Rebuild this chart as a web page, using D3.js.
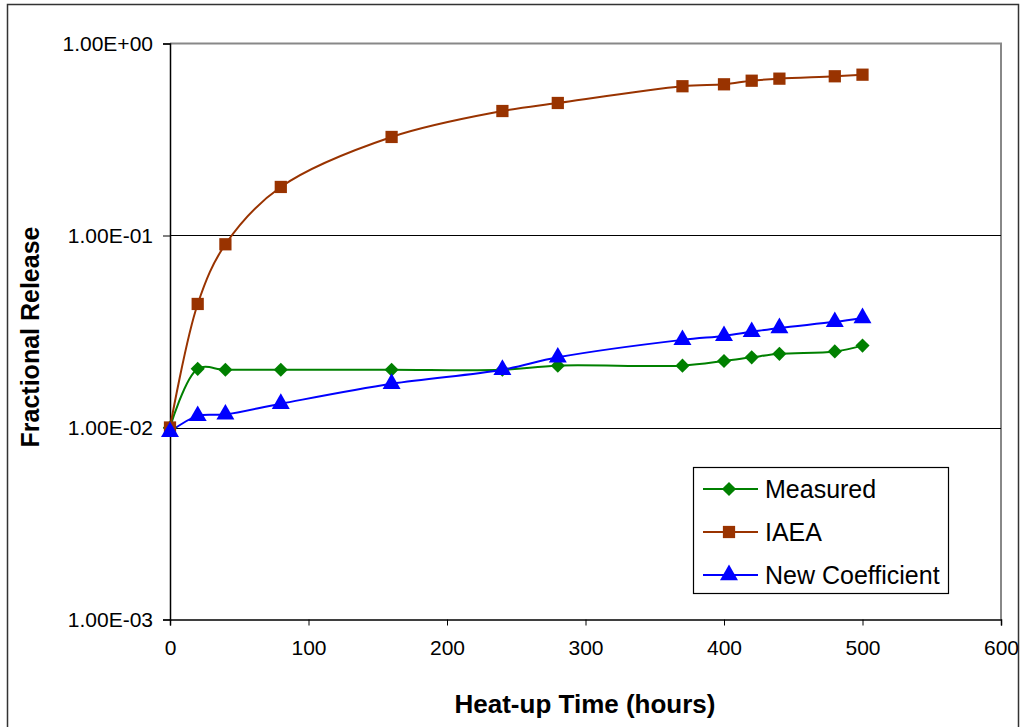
<!DOCTYPE html>
<html>
<head>
<meta charset="utf-8">
<script src="https://cdn.jsdelivr.net/npm/d3@7"></script>
<style>
body { margin: 0; background: #fff; }
text { font-family: "Liberation Sans", Arial, sans-serif; fill: #000; }
</style>
</head>
<body>
<div id="chart"></div>
<script>
var width = 1022;
var height = 727;

// data
var hours = [0, 20, 40, 80, 160, 240, 280, 370, 400, 420, 440, 480, 500];
var measured = [0.0100, 0.0202, 0.0200, 0.0200, 0.0200, 0.0200, 0.0210, 0.0210, 0.0222, 0.0232, 0.0242, 0.0249, 0.0267];
var iaea = [0.0100, 0.0440, 0.0900, 0.179, 0.326, 0.445, 0.490, 0.599, 0.613, 0.640, 0.656, 0.675, 0.688];
var newCoef = [0.0095, 0.0115, 0.0117, 0.0133, 0.0169, 0.0200, 0.0232, 0.0286, 0.0300, 0.0315, 0.0330, 0.0355, 0.0372];
var yTicks = [1, 0.1, 0.01, 0.001];
var yTickLabels = ["1.00E+00", "1.00E-01", "1.00E-02", "1.00E-03"];
var xTicks = [0, 100, 200, 300, 400, 500, 600];

// diamonds are squares turned by 45 degrees
var series = [
    {name: "Measured", values: measured, color: "#008000", symbol: d3.symbolSquare, size: 100, rot: 45},
    {name: "IAEA", values: iaea, color: "#993300", symbol: d3.symbolSquare, size: 150, rot: 0},
    {name: "New Coefficient", values: newCoef, color: "#0000ff", symbol: d3.symbolTriangle, size: 140, rot: 0}
];

var plotLeft = 170, plotRight = 1001, plotTop = 43.5, plotBottom = 619.5;

var xScale = d3.scaleLinear().domain([0, 600]).range([plotLeft, plotRight]);
var yScale = d3.scaleLog().domain([0.001, 1]).range([plotBottom, plotTop]);

var svg = d3.select("#chart")
    .append("svg")
    .attr("width", width)
    .attr("height", height);

// outer frame
svg.append("rect")
    .attr("x", 7.5).attr("y", 4.5)
    .attr("width", 1011).attr("height", 730)
    .attr("fill", "none")
    .attr("stroke", "#333")
    .attr("stroke-width", 1.5);

// plot frame (gray top/right)
svg.append("path")
    .attr("d", "M" + plotLeft + "," + plotTop + "H" + plotRight + "V" + plotBottom)
    .attr("fill", "none")
    .attr("stroke", "#888")
    .attr("stroke-width", 2);

// gridlines
svg.selectAll(".grid")
    .data([0.1, 0.01])
    .enter()
    .append("line")
    .attr("x1", plotLeft).attr("x2", plotRight)
    .attr("y1", function(d) { return Math.round(yScale(d)) + 0.5; })
    .attr("y2", function(d) { return Math.round(yScale(d)) + 0.5; })
    .attr("stroke", "#000")
    .attr("stroke-width", 1);

// y axis
var yAxis = d3.axisLeft(yScale)
    .tickValues(yTicks)
    .tickSize(7)
    .tickPadding(10)
    .tickFormat(function(d, i) { return yTickLabels[i]; });

var gy = svg.append("g")
    .attr("transform", "translate(" + plotLeft + ",0)")
    .call(yAxis);
gy.select(".domain").attr("stroke", "#000").attr("stroke-width", 1.5);
gy.selectAll(".tick line").attr("stroke", "#000");
gy.selectAll("text")
    .style("font-size", "21px")
    .attr("fill", "#000");

// x axis
var xAxis = d3.axisBottom(xScale)
    .tickValues(xTicks)
    .tickSize(6)
    .tickPadding(15)
    .tickFormat(d3.format("d"));

var gx = svg.append("g")
    .attr("transform", "translate(0," + plotBottom + ")")
    .call(xAxis);
gx.select(".domain").attr("stroke", "#000").attr("stroke-width", 1.5);
gx.selectAll(".tick line").attr("stroke", "#000");
gx.selectAll("text")
    .style("font-size", "21px")
    .attr("fill", "#000");

// axis titles
svg.append("text")
    .attr("x", 585)
    .attr("y", 713)
    .style("text-anchor", "middle")
    .style("font-size", "26px")
    .style("font-weight", "bold")
    .text("Heat-up Time (hours)");

svg.append("text")
    .attr("transform", "translate(39,337) rotate(-90)")
    .style("text-anchor", "middle")
    .style("font-size", "25px")
    .style("font-weight", "bold")
    .text("Fractional Release");

// lines
var line = d3.line()
    .x(function(d) { return xScale(d[0]); })
    .y(function(d) { return yScale(d[1]); })
    .curve(d3.curveCatmullRom.alpha(0.5));

series.forEach(function(s) {
    var pts = hours.map(function(h, i) { return [h, s.values[i]]; });
    svg.append("path")
        .datum(pts)
        .attr("d", line)
        .attr("fill", "none")
        .attr("stroke", s.color)
        .attr("stroke-width", 2);
});

series.forEach(function(s) {
    var pts = hours.map(function(h, i) { return [h, s.values[i]]; });
    svg.selectAll(null)
        .data(pts)
        .enter()
        .append("path")
        .attr("d", d3.symbol().type(s.symbol).size(s.size))
        .attr("transform", function(d) {
            return "translate(" + xScale(d[0]) + "," + yScale(d[1]) + ") rotate(" + s.rot + ")";
        })
        .attr("fill", s.color);
});

// legend
var legend = svg.append("g").attr("transform", "translate(693,467)");
legend.append("rect")
    .attr("x", 0.5).attr("y", 0.5)
    .attr("width", 255).attr("height", 126)
    .attr("fill", "#fff")
    .attr("stroke", "#000")
    .attr("stroke-width", 1.2);

var items = legend.selectAll(".item")
    .data(series)
    .enter()
    .append("g")
    .attr("transform", function(d, i) { return "translate(0," + (22 + i * 43) + ")"; });

items.append("line")
    .attr("x1", 10).attr("x2", 65)
    .attr("stroke", function(d) { return d.color; })
    .attr("stroke-width", 2);

items.append("path")
    .attr("d", function(d) { return d3.symbol().type(d.symbol).size(d.size)(); })
    .attr("transform", function(d) { return "translate(36,0) rotate(" + d.rot + ")"; })
    .attr("fill", function(d) { return d.color; });

items.append("text")
    .attr("x", 72)
    .attr("y", 9)
    .style("font-size", "25px")
    .text(function(d) { return d.name; });
</script>
</body>
</html>
